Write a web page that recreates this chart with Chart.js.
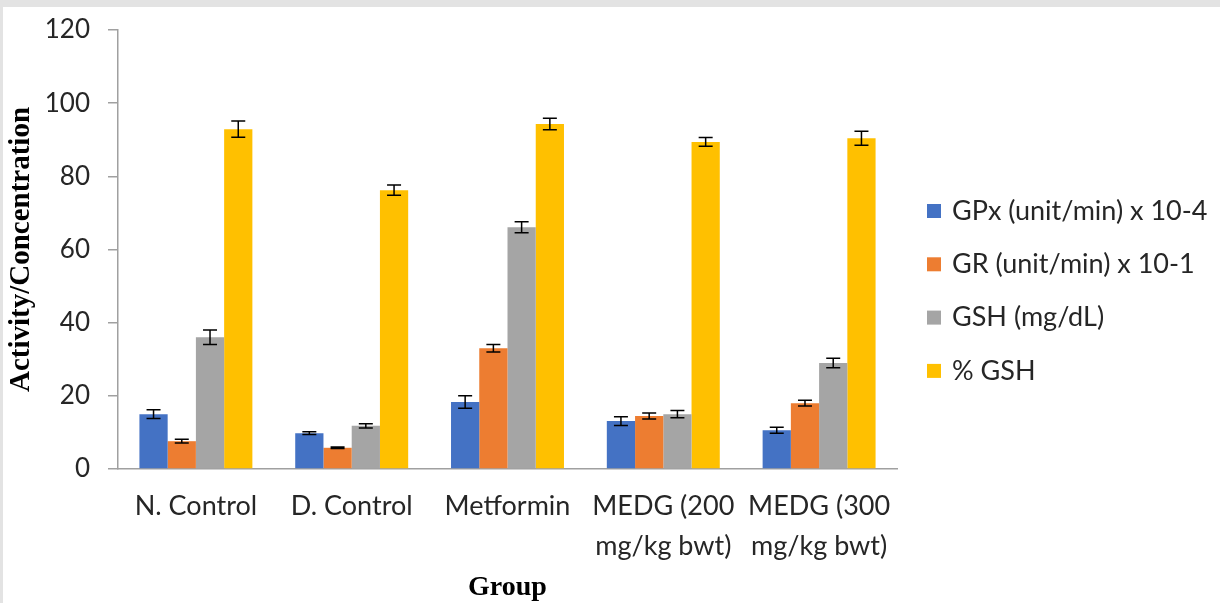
<!DOCTYPE html>
<html>
<head>
<meta charset="utf-8">
<script src="https://cdn.jsdelivr.net/npm/chart.js@4.4.1/dist/chart.umd.min.js"></script>
<style>
  html, body { margin: 0; padding: 0; background: #e3e3e3; }
  #wrap { position: absolute; left: 3px; top: 7px; width: 1217px; height: 596px; background: #fff; }
</style>
</head>
<body>
<div id="wrap"><canvas id="chart"></canvas></div>
<script>
const groups = ['N. Control', 'D. Control', 'Metformin', ['MEDG (200', 'mg/kg bwt)'], ['MEDG (300', 'mg/kg bwt)']];
const seriesNames = ['GPx (unit/min) x 10-4', 'GR (unit/min) x 10-1', 'GSH (mg/dL)', '% GSH'];
const seriesColors = ['#4472C4', '#ED7D31', '#A5A5A5', '#FFC000'];

const gpx = [15.0, 9.8, 18.3, 13.1, 10.6];
const gr = [7.6, 5.8, 33.0, 14.5, 18.0];
const gsh = [36.0, 11.8, 66.1, 15.0, 29.0];
const pctGsh = [92.9, 76.2, 94.3, 89.4, 90.4];

const gpxErr = [1.2, 0.4, 1.7, 1.2, 0.8];
const grErr = [0.5, 0.2, 1.0, 0.8, 0.8];
const gshErr = [2.0, 0.6, 1.5, 1.0, 1.3];
const pctGshErr = [2.2, 1.4, 1.6, 1.2, 1.9];

const yTicks = [0, 20, 40, 60, 80, 100, 120];

const seriesValues = [gpx, gr, gsh, pctGsh];
const seriesErrors = [gpxErr, grErr, gshErr, pctGshErr];

const errorBars = {
  id: 'errorBars',
  afterDatasetsDraw(chart) {
    const ctx = chart.ctx;
    const y = chart.scales.y;
    ctx.save();
    ctx.strokeStyle = '#000';
    ctx.lineWidth = 1.5;
    chart.data.datasets.forEach((ds, i) => {
      const meta = chart.getDatasetMeta(i);
      meta.data.forEach((bar, j) => {
        const v = ds.data[j];
        const e = ds.errors[j];
        const top = y.getPixelForValue(v + e);
        const bot = y.getPixelForValue(v - e);
        ctx.beginPath();
        ctx.moveTo(bar.x, top);
        ctx.lineTo(bar.x, bot);
        ctx.moveTo(bar.x - 7, top);
        ctx.lineTo(bar.x + 7, top);
        ctx.moveTo(bar.x - 7, bot);
        ctx.lineTo(bar.x + 7, bot);
        ctx.stroke();
      });
    });
    ctx.restore();
  }
};

// legend drawn on the right, spaced like the original
const sideLegend = {
  id: 'sideLegend',
  afterDraw(chart) {
    const ctx = chart.ctx;
    const x0 = chart.chartArea.right + 30;
    const y0 = 204;
    ctx.save();
    ctx.font = '27px Lato';
    ctx.textBaseline = 'middle';
    ctx.textAlign = 'left';
    chart.data.datasets.forEach((ds, i) => {
      const cy = y0 + i * 53.3;
      ctx.fillStyle = ds.backgroundColor;
      ctx.fillRect(x0, cy - 7, 14, 14);
      ctx.fillStyle = '#262626';
      ctx.fillText(ds.label, x0 + 25, cy);
    });
    ctx.restore();
  }
};

const datasets = seriesNames.map((name, i) => ({
  label: name,
  data: seriesValues[i],
  errors: seriesErrors[i],
  backgroundColor: seriesColors[i],
  categoryPercentage: 0.725,
  barPercentage: 1.0
}));

new Chart(document.getElementById('chart'), {
  type: 'bar',
  data: { labels: groups, datasets: datasets },
  options: {
    responsive: true,
    maintainAspectRatio: false,
    animation: false,
    layout: { padding: { top: 23, right: 323, left: 0, bottom: 0 } },
    plugins: {
      legend: { display: false },
      tooltip: { enabled: false }
    },
    scales: {
      x: {
        grid: { display: true, drawOnChartArea: false, drawTicks: false },
        border: { display: true, color: '#a0a0a0', width: 1.5 },
        ticks: {
          color: '#262626',
          padding: 17,
          maxRotation: 0,
          autoSkip: false,
          font: { family: 'Lato', size: 27, lineHeight: 1.48 }
        },
        title: {
          display: true,
          text: 'Group',
          color: '#000',
          padding: { top: 0, bottom: -2 },
          font: { family: 'Liberation Serif', size: 28, weight: 'bold' }
        },
        afterFit(scale) { scale.height = 134; }
      },
      y: {
        min: 0,
        max: 120,
        afterBuildTicks(scale) { scale.ticks = yTicks.map(v => ({ value: v })); },
        grid: { display: true, drawOnChartArea: false, tickLength: 10, color: '#a0a0a0', lineWidth: 1.5 },
        border: { display: true, color: '#a0a0a0', width: 1.5 },
        ticks: {
          color: '#262626',
          padding: 18,
          font: { family: 'Lato', size: 26 }
        },
        title: {
          display: true,
          text: 'Activity/Concentration',
          color: '#000',
          padding: { top: 1, bottom: 0 },
          font: { family: 'Liberation Serif', size: 29, weight: 'bold' }
        },
        afterFit(scale) {
          scale.width = 115;
          scale.paddingTop = 0;
        }
      }
    }
  },
  plugins: [errorBars, sideLegend]
});
</script>
</body>
</html>
